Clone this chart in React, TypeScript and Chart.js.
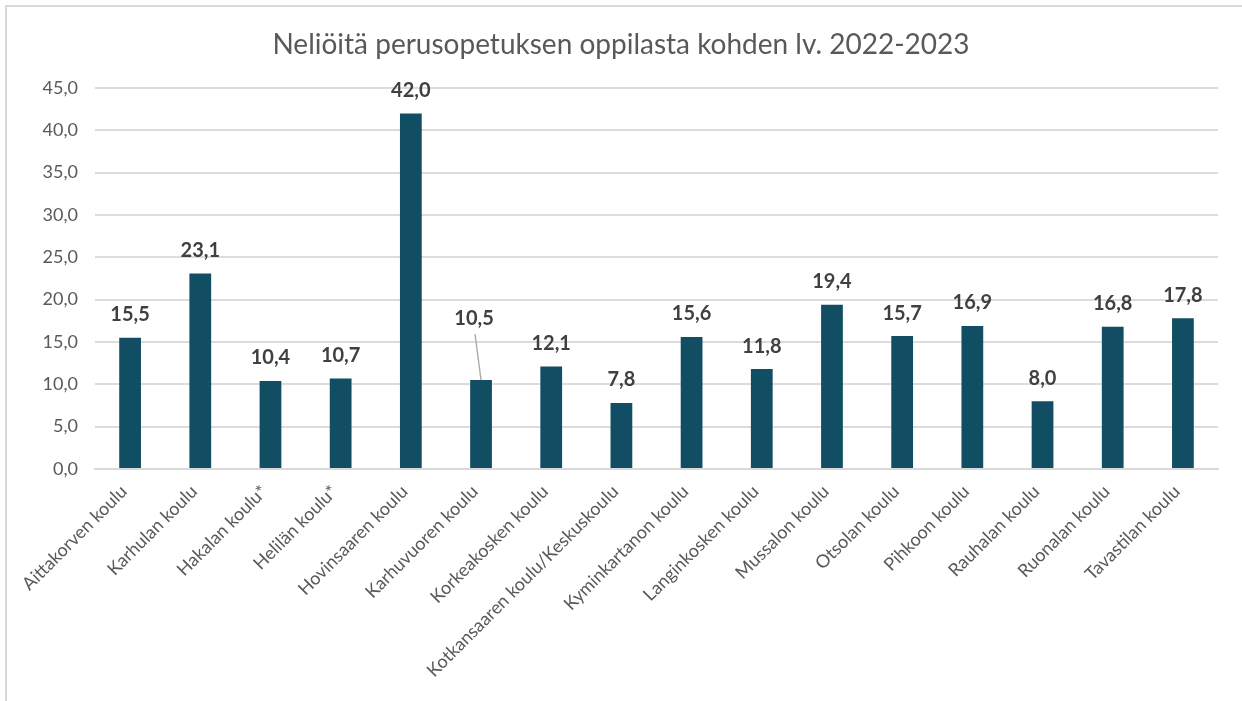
import React, { useEffect, useRef } from "react";
import { Chart, registerables } from "chart.js";

Chart.register(...registerables);

const chartTitle = "Neliöitä perusopetuksen oppilasta kohden lv. 2022-2023";

const schools = [
  "Aittakorven koulu",
  "Karhulan koulu",
  "Hakalan koulu*",
  "Helilän koulu*",
  "Hovinsaaren koulu",
  "Karhuvuoren koulu",
  "Korkeakosken koulu",
  "Kotkansaaren koulu/Keskuskoulu",
  "Kyminkartanon koulu",
  "Langinkosken koulu",
  "Mussalon koulu",
  "Otsolan koulu",
  "Pihkoon koulu",
  "Rauhalan koulu",
  "Ruonalan koulu",
  "Tavastilan koulu",
];

const squareMetres = [15.5, 23.1, 10.4, 10.7, 42.0, 10.5, 12.1, 7.8, 15.6, 11.8, 19.4, 15.7, 16.9, 8.0, 16.8, 17.8];

const yMin = 0;
const yMax = 45;
const yStep = 5;

// label placed away from its bar with a leader line (index -> [dx, dy from bar top])
const movedLabels: Record<number, [number, number]> = { 5: [-7, -62] };

const FONT = "Lato, 'Open Sans', sans-serif";
const BAR = "#124E63";

const fmt = (v: number) => v.toFixed(1).replace(".", ",");

const labelPlugin = {
  id: "labels",
  afterDraw(chart: any) {
    const ctx = chart.ctx;
    ctx.save();
    ctx.fillStyle = "#595959";
    ctx.font = `28px ${FONT}`;
    ctx.textAlign = "center";
    ctx.textBaseline = "middle";
    ctx.fillText(chartTitle, chart.width / 2, 45);

    const meta = chart.getDatasetMeta(0);
    ctx.font = `bold 20px ${FONT}`;
    ctx.fillStyle = "#404040";
    meta.data.forEach((bar: any, i: number) => {
      const v = chart.data.datasets[0].data[i];
      let x = bar.x;
      let y = bar.y - 23;
      const mv = movedLabels[i];
      if (mv) {
        x += mv[0];
        y = bar.y + mv[1];
        ctx.save();
        ctx.strokeStyle = "#a6a6a6";
        ctx.lineWidth = 1.3;
        ctx.beginPath();
        ctx.moveTo(x + 1, y + 16);
        ctx.lineTo(bar.x, bar.y);
        ctx.stroke();
        ctx.restore();
      }
      ctx.fillText(fmt(v), x, y);
    });
    ctx.restore();
  },
};

export default function App() {
  const ref = useRef<HTMLCanvasElement>(null);
  useEffect(() => {
    if (!ref.current) return;
    const chart = new Chart(ref.current, {
      type: "bar",
      data: {
        labels: schools,
        datasets: [
          {
            data: squareMetres,
            backgroundColor: BAR,
            borderWidth: 0,
            barPercentage: 0.62,
            categoryPercentage: 0.5,
          },
        ],
      },
      options: {
        animation: false,
        responsive: false,
        devicePixelRatio: 1,
        layout: { padding: { left: 0, right: 24, top: 88, bottom: 0 } },
        plugins: {
          legend: { display: false },
          title: { display: false },
          tooltip: { enabled: false },
        },
        scales: {
          x: {
            grid: { display: false, drawTicks: false },
            border: { color: "#d9d9d9", width: 2 },
            ticks: {
              color: "#595959",
              font: { family: FONT, size: 18 },
              minRotation: 45,
              maxRotation: 45,
              autoSkip: false,
              padding: 12,
              labelOffset: -6,
            },
            afterFit: (s: any) => {
              s.height = 232;
            },
          },
          y: {
            min: yMin,
            max: yMax,
            grid: { color: "#dcdcdc", lineWidth: 2, drawTicks: false },
            border: { display: false },
            ticks: {
              stepSize: yStep,
              color: "#595959",
              font: { family: FONT, size: 18 },
              padding: 17,
              callback: (v: any) => fmt(Number(v)),
            },
            afterFit: (s: any) => {
              s.width = 95;
            },
          },
        },
      },
      plugins: [labelPlugin],
    });
    return () => chart.destroy();
  }, []);

  return (
    <div style={{ position: "absolute", left: 0, top: 0, width: 1242, height: 701, overflow: "hidden", background: "#fff" }}>
      <div
        style={{
          position: "absolute",
          left: 5,
          top: 5,
          width: 1400,
          height: 900,
          border: "2px solid #d9d9d9",
          boxSizing: "border-box",
        }}
      />
      <canvas ref={ref} width={1242} height={701} style={{ position: "absolute", left: 0, top: 0 }} />
    </div>
  );
}
